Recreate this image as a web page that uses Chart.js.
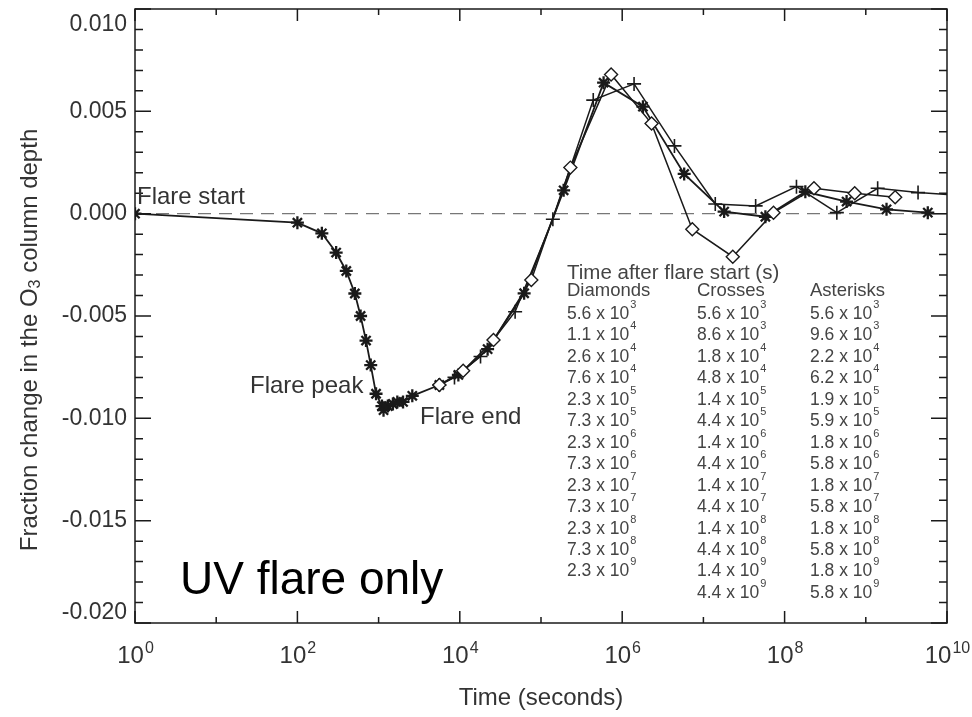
<!DOCTYPE html>
<html>
<head>
<meta charset="utf-8">
<script src="https://cdn.jsdelivr.net/npm/chart.js@4.4.1/dist/chart.umd.min.js"></script>
<style>
  html, body { margin: 0; padding: 0; background: #fff; }
</style>
</head>
<body>
<canvas id="ozoneChart" width="972" height="717"></canvas>
<script>
// times in seconds after flare start, values are fractional change in O3 column depth
const asteriskTimes = [1, 100, 200, 300, 400, 510, 600, 700, 800, 930, 1100, 1150, 1300, 1500, 1700, 2000, 2600,
  5.6e3, 9.6e3, 2.2e4, 6.2e4, 1.9e5, 5.9e5, 1.8e6, 5.8e6, 1.8e7, 5.8e7, 1.8e8, 5.8e8, 1.8e9, 5.8e9];
const asteriskValues = [0, -0.00044, -0.00096, -0.0019, -0.0028, -0.0039, -0.0050, -0.0062, -0.0074, -0.0088,
  -0.0094, -0.0096, -0.0094, -0.0093, -0.0092, -0.0092, -0.0089,
  -0.00837, -0.00788, -0.00662, -0.00389, 0.00114, 0.0064, 0.00523, 0.00194, 0.0001, -0.00015, 0.00107, 0.00059, 0.00021, 0.00005];

const diamondTimes = [5.6e3, 1.1e4, 2.6e4, 7.6e4, 2.3e5, 7.3e5, 2.3e6, 7.3e6, 2.3e7, 7.3e7, 2.3e8, 7.3e8, 2.3e9];
const diamondValues = [-0.00837, -0.00768, -0.00617, -0.00324, 0.00225, 0.0068, 0.0044, -0.00076, -0.0021, 0.00005, 0.00124, 0.001, 0.0008];

const crossTimes = [5.6e3, 8.6e3, 1.8e4, 4.8e4, 1.4e5, 4.4e5, 1.4e6, 4.4e6, 1.4e7, 4.4e7, 1.4e8, 4.4e8, 1.4e9, 4.4e9, 1.4e10];
const crossValues = [-0.00837, -0.0080, -0.00698, -0.00479, -0.00027, 0.00555, 0.00634, 0.00331, 0.00047, 0.00038, 0.00132, 0.00005, 0.00124, 0.00103, 0.0009];

const xTickExponents = [0, 2, 4, 6, 8, 10];
const yTickValues = [0.010, 0.005, 0.000, -0.005, -0.010, -0.015, -0.020];

const FONT = '"Liberation Sans", Arial, Helvetica, sans-serif';
const INK = '#1a1a1a';
const TEXT = '#333';

function toPoints(times, values) {
  return times.map((t, i) => ({ x: t, y: values[i] }));
}

// draws "base" followed by a raised exponent
function drawPower(ctx, base, exp, x, y, size, expSize, raise, centered) {
  ctx.font = size + 'px ' + FONT;
  const wb = ctx.measureText(base).width;
  ctx.font = expSize + 'px ' + FONT;
  const we = ctx.measureText(exp).width;
  const x0 = centered ? x - (wb + we) / 2 : x;
  ctx.textAlign = 'left';
  ctx.textBaseline = 'alphabetic';
  ctx.font = size + 'px ' + FONT;
  ctx.fillText(base, x0, y);
  ctx.font = expSize + 'px ' + FONT;
  ctx.fillText(exp, x0 + wb + 1, y - raise);
}

function tableEntries(times) {
  return times.filter(t => t >= 5e3 && t <= 1e10).map(t => {
    const e = Math.floor(Math.log10(t) + 1e-9);
    return { m: (t / Math.pow(10, e)).toFixed(1), e: String(e) };
  });
}

const axesPlugin = {
  id: 'axesPlugin',
  beforeDatasetsDraw(chart) {
    const { ctx, chartArea: a, scales: { y } } = chart;
    const py = y.getPixelForValue(0);
    ctx.save();
    ctx.strokeStyle = '#777';
    ctx.lineWidth = 1.3;
    ctx.setLineDash([13, 8]);
    ctx.beginPath();
    ctx.moveTo(a.left, py);
    ctx.lineTo(a.right, py);
    ctx.stroke();
    ctx.restore();
  },
  afterDraw(chart) {
    const { ctx, chartArea: a, scales: { x, y } } = chart;
    ctx.save();
    ctx.strokeStyle = INK;
    ctx.lineWidth = 1.5;
    ctx.strokeRect(a.left, a.top, a.right - a.left, a.bottom - a.top);

    // inward tick marks on all four sides
    ctx.beginPath();
    for (let k = 0; k <= 10; k++) {
      const px = x.getPixelForValue(Math.pow(10, k));
      const len = k % 2 === 0 ? 12 : 6;
      ctx.moveTo(px, a.bottom); ctx.lineTo(px, a.bottom - len);
      ctx.moveTo(px, a.top); ctx.lineTo(px, a.top + len);
    }
    for (let i = 0; i <= 30; i++) {
      const py = y.getPixelForValue(-0.02 + i * 0.001);
      const len = i % 5 === 0 ? 16 : 8;
      ctx.moveTo(a.left, py); ctx.lineTo(a.left + len, py);
      ctx.moveTo(a.right, py); ctx.lineTo(a.right - len, py);
    }
    ctx.stroke();

    // tick labels
    ctx.fillStyle = TEXT;
    xTickExponents.forEach(k => {
      drawPower(ctx, '10', String(k), x.getPixelForValue(Math.pow(10, k)), a.bottom + 40, 24, 16, 10, true);
    });
    ctx.font = '23px ' + FONT;
    ctx.textAlign = 'right';
    ctx.textBaseline = 'middle';
    yTickValues.forEach(v => {
      let py = y.getPixelForValue(v);
      py = Math.min(Math.max(py, a.top + 16), a.bottom - 10);
      ctx.fillText(Math.abs(v) < 1e-9 ? '0.000' : v.toFixed(3), a.left - 8, py);
    });

    // y axis title with subscript
    ctx.save();
    ctx.translate(30, 340);
    ctx.rotate(-Math.PI / 2);
    const partA = 'Fraction change in the O', partB = '3', partC = ' column depth';
    ctx.font = '24px ' + FONT;
    const wa = ctx.measureText(partA).width, wc = ctx.measureText(partC).width;
    ctx.font = '16px ' + FONT;
    const wbSub = ctx.measureText(partB).width;
    let cx = -(wa + wbSub + wc) / 2;
    ctx.textAlign = 'left';
    ctx.textBaseline = 'middle';
    ctx.font = '24px ' + FONT;
    ctx.fillText(partA, cx, 0);
    cx += wa;
    ctx.font = '16px ' + FONT;
    ctx.fillText(partB, cx, 6);
    cx += wbSub;
    ctx.font = '24px ' + FONT;
    ctx.fillText(partC, cx, 0);
    ctx.restore();

    // annotations
    ctx.textAlign = 'left';
    ctx.textBaseline = 'alphabetic';
    ctx.font = '24px ' + FONT;
    ctx.fillText('Flare start', a.left + 2, 204);
    ctx.fillText('Flare peak', 250, 393);
    ctx.fillText('Flare end', 420, 424);
    ctx.fillStyle = '#000';
    ctx.font = '46px ' + FONT;
    ctx.fillText('UV flare only', 180, 594);

    // table of sample times
    ctx.fillStyle = '#444';
    ctx.font = '20.5px ' + FONT;
    ctx.fillText('Time after flare start (s)', 567, 279);
    const cols = [
      { name: 'Diamonds', x: 567, rows: tableEntries(diamondTimes) },
      { name: 'Crosses', x: 697, rows: tableEntries(crossTimes) },
      { name: 'Asterisks', x: 810, rows: tableEntries(asteriskTimes) }
    ];
    cols.forEach(c => {
      ctx.font = '18.5px ' + FONT;
      ctx.textAlign = 'left';
      ctx.textBaseline = 'alphabetic';
      ctx.fillText(c.name, c.x, 296);
      c.rows.forEach((r, i) => {
        drawPower(ctx, r.m + ' x 10', r.e, c.x, 319 + i * 21.45, 17.5, 11, 11, false);
      });
    });
    ctx.restore();
  }
};

new Chart(document.getElementById('ozoneChart').getContext('2d'), {
  type: 'scatter',
  data: {
    datasets: [
      {
        label: 'Diamonds',
        data: toPoints(diamondTimes, diamondValues),
        showLine: true,
        borderColor: INK,
        borderWidth: 1.5,
        pointStyle: 'rectRot',
        pointRadius: 6.5,
        pointBorderWidth: 1.4,
        pointBorderColor: INK,
        pointBackgroundColor: '#fff'
      },
      {
        label: 'Crosses',
        data: toPoints(crossTimes, crossValues),
        showLine: true,
        borderColor: INK,
        borderWidth: 1.5,
        pointStyle: 'cross',
        pointRadius: 7,
        pointBorderWidth: 1.6,
        pointBorderColor: INK
      },
      {
        label: 'Asterisks',
        data: toPoints(asteriskTimes, asteriskValues),
        showLine: true,
        borderColor: INK,
        borderWidth: 1.8,
        pointStyle: 'star',
        pointRadius: 6.5,
        pointBorderWidth: 2.3,
        pointBorderColor: INK,
        pointBackgroundColor: INK
      }
    ]
  },
  options: {
    responsive: false,
    animation: false,
    layout: { padding: { top: 9, right: 25, left: 0, bottom: 0 } },
    plugins: {
      legend: { display: false },
      tooltip: { enabled: false }
    },
    scales: {
      x: {
        type: 'logarithmic',
        min: 1,
        max: 1e10,
        grid: { display: false, drawTicks: false },
        border: { display: false },
        ticks: { display: false },
        title: {
          display: true,
          text: 'Time (seconds)',
          color: TEXT,
          font: { family: FONT, size: 24 },
          padding: { top: 0, bottom: 4 }
        },
        afterFit: (scale) => { scale.height = 94; }
      },
      y: {
        min: -0.02,
        max: 0.01,
        grid: { display: false, drawTicks: false },
        border: { display: false },
        ticks: { display: false },
        afterFit: (scale) => { scale.width = 135; }
      }
    }
  },
  plugins: [axesPlugin]
});
</script>
</body>
</html>
